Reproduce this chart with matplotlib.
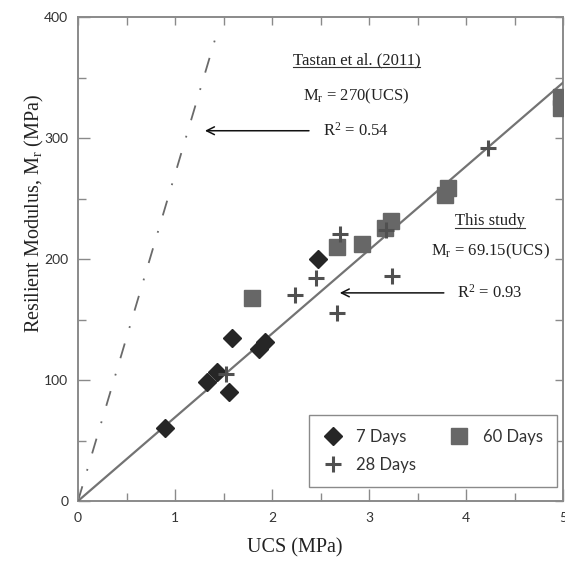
import numpy as np
import matplotlib
matplotlib.use("Agg")
import matplotlib.pyplot as plt
from matplotlib.lines import Line2D
from matplotlib.ticker import MultipleLocator

plt.rcParams['mathtext.fontset'] = 'custom'
plt.rcParams['mathtext.rm'] = 'Liberation Serif'
plt.rcParams['mathtext.it'] = 'Liberation Serif:italic'

# ---- data ----
ucs_7 = [0.90, 1.33, 1.43, 1.59, 1.56, 1.87, 1.93, 2.47]
mr_7 = [60, 98, 107, 135, 90, 126, 131, 200]

ucs_28 = [1.53, 2.24, 2.45, 2.67, 2.70, 3.24, 3.18, 4.23]
mr_28 = [105, 170, 184, 155, 221, 186, 224, 292]

ucs_60 = [1.79, 2.67, 2.93, 3.16, 3.23, 3.78, 3.81, 4.98, 4.98]
mr_60 = [168, 210, 212, 226, 231, 253, 259, 334, 325]

slope_this = 69.15
slope_tastan = 270
x_fit = [0, 5]
x_tastan = [0, 1.445]

fig = plt.figure(figsize=(5.65, 5.64), dpi=100)
ax = fig.add_axes([78/565, 63/564, 485/565, 484/564])

ax.plot(x_fit, [slope_this * v for v in x_fit], color='#737373', lw=1.6, zorder=3)
ax.plot(x_tastan, [slope_tastan * v for v in x_tastan], color='#6a6a6a', lw=1.3,
        linestyle=(0, (8.5, 9, 1, 9)), zorder=2)

ax.plot(ucs_7, mr_7, linestyle='none', marker='D', ms=8.8, color='#262626', zorder=4,
        label='7 Days')
ax.plot(ucs_28, mr_28, linestyle='none', marker='+', ms=12, mew=2.2, color='#505050',
        zorder=5, label='28 Days')
ax.plot(ucs_60, mr_60, linestyle='none', marker='s', ms=11, color='#676767', zorder=4,
        label='60 Days')

ax.set_xlim(0, 5)
ax.set_ylim(0, 400)
ax.xaxis.set_major_locator(MultipleLocator(1))
ax.xaxis.set_minor_locator(MultipleLocator(0.5))
ax.yaxis.set_major_locator(MultipleLocator(100))
ax.yaxis.set_minor_locator(MultipleLocator(50))

for s in ax.spines.values():
    s.set_color('#8a8a8a')
    s.set_linewidth(1.4)

ax.tick_params(axis='both', which='major', direction='in', length=8.6, width=1,
               color='#8a8a8a', labelsize=10, labelcolor='#333333')
ax.tick_params(axis='both', which='minor', direction='in', length=5.5, width=1,
               color='#8a8a8a')
ax.tick_params(axis='x', pad=8)
ax.tick_params(axis='y', pad=7)
for lab in ax.get_xticklabels() + ax.get_yticklabels():
    lab.set_fontfamily('Lato')

# top / right ticks
sx = ax.secondary_xaxis('top')
sx.xaxis.set_major_locator(MultipleLocator(0.5))
sx.tick_params(direction='in', length=5.5, width=1, color='#8a8a8a', labeltop=False)
sx.spines['top'].set_visible(False)
sy = ax.secondary_yaxis('right')
sy.yaxis.set_major_locator(MultipleLocator(50))
sy.tick_params(direction='in', length=5.5, width=1, color='#8a8a8a', labelright=False)
sy.spines['right'].set_visible(False)

serif = 'Liberation Serif'
ax.text(0.447, -0.097, 'UCS (MPa)', transform=ax.transAxes, ha='center', va='center',
        fontsize=14.5, family=serif, color='#222222')
ax.text(-0.09, 0.593, r'Resilient Modulus, M$_{\mathrm{r}}$ (MPa)', transform=ax.transAxes,
        ha='center', va='center', rotation=90, fontsize=14.5, family=serif, color='#222222')

# annotations
fs = 12
t1 = ax.text(2.87, 364, 'Tastan et al. (2011)', ha='center', va='center', fontsize=fs,
             family=serif, color='#222222')
ax.text(2.87, 334, r'M$_{\mathrm{r}}$ = 270(UCS)', ha='center', va='center', fontsize=fs,
        family=serif, color='#222222')
ax.text(2.87, 306, r'R$^{2}$ = 0.54', ha='center', va='center', fontsize=fs,
        family=serif, color='#222222')
t2 = ax.text(4.25, 231, 'This study', ha='center', va='center', fontsize=fs,
             family=serif, color='#222222')
ax.text(4.25, 206, r'M$_{\mathrm{r}}$ = 69.15(UCS)', ha='center', va='center', fontsize=fs,
        family=serif, color='#222222')
ax.text(4.25, 172, r'R$^{2}$ = 0.93', ha='center', va='center', fontsize=fs,
        family=serif, color='#222222')

ax.annotate('', xy=(1.28, 306), xytext=(2.41, 306),
            arrowprops=dict(arrowstyle='->', color='#111111', lw=1.1,
                            mutation_scale=14))
ax.annotate('', xy=(2.67, 172), xytext=(3.80, 172),
            arrowprops=dict(arrowstyle='->', color='#111111', lw=1.1,
                            mutation_scale=14))

leg = ax.legend(ncol=2, loc='lower right', bbox_to_anchor=(0.9876, 0.029),
                borderaxespad=0, fancybox=False, edgecolor='#8a8a8a',
                prop={'family': 'Lato', 'size': 12}, handlelength=1.2,
                handletextpad=0.8, columnspacing=2.0, labelspacing=0.7,
                borderpad=0.85, framealpha=1)
leg.get_frame().set_linewidth(1.0)
for t in leg.get_texts():
    t.set_color('#333333')

fig.canvas.draw()
r = fig.canvas.get_renderer()
for t in (t1, t2):
    bb = t.get_window_extent(r)
    y = bb.y0 + 1.5
    fig.add_artist(Line2D([bb.x0, bb.x1], [y, y], transform=None, color='#333333', lw=0.8))

fig.savefig('out.png', dpi=100)
